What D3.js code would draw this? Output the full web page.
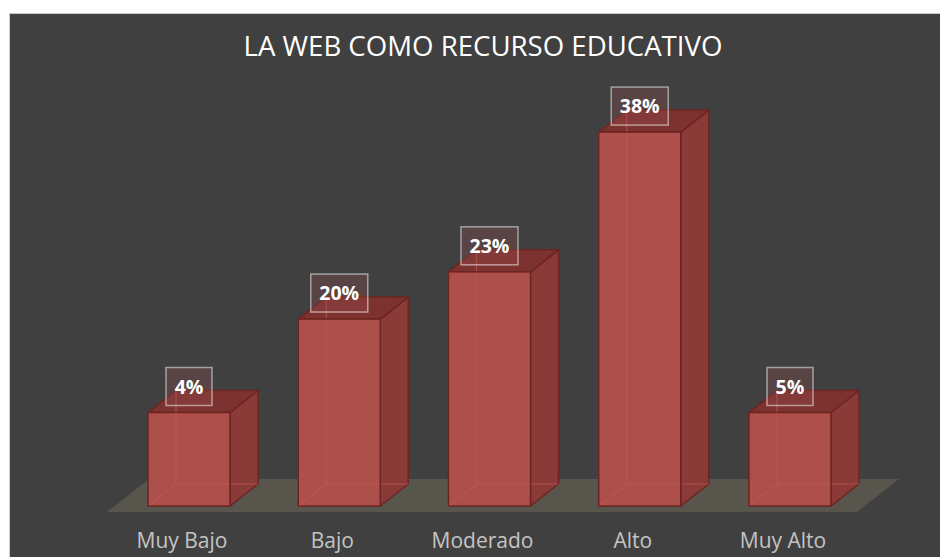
<!DOCTYPE html>
<html>
<head>
<meta charset="utf-8">
<script src="https://cdn.jsdelivr.net/npm/d3@7"></script>
<style>
  html, body { margin: 0; padding: 0; background: #ffffff; }
  svg { display: block; }
</style>
</head>
<body>
<svg id="chart" width="940" height="557"></svg>
<script>
// ---- data ----
const chartTitle = "LA WEB COMO RECURSO EDUCATIVO";
const categories = ["Muy Bajo", "Bajo", "Moderado", "Alto", "Muy Alto"];
// bar heights as drawn in the picture (percent scale)
const barValues = [9.5, 19, 23.8, 38, 9.5];
// data label texts shown above the bars
const dataLabels = ["4%", "20%", "23%", "38%", "5%"];

// ---- layout ----
const W = 940, H = 557;
const svg = d3.select("#chart");

// chart area background with thin border
svg.append("rect")
  .attr("x", 9.5).attr("y", 13.5)
  .attr("width", W + 20).attr("height", H + 20)
  .attr("fill", "#404040")
  .attr("stroke", "#c8c8c8").attr("stroke-width", 1);

const x = d3.scaleBand()
  .domain(categories)
  .range([148, 831])
  .paddingInner(0.454)
  .paddingOuter(0);

const y = d3.scaleLinear()
  .domain([0, 40])
  .range([506, 506 - 40 * 9.84]);

const dx = 28, dy = 22; // depth offset of the 3D bars
const bw = x.bandwidth();
const base = y(0);

// floor
const fx0 = x.range()[0] - 41, fx1 = x.range()[1] + 26;
svg.append("path")
  .attr("d", `M${fx0},${base + 6} L${fx1},${base + 6} L${fx1 + 42},${base - 27} L${fx0 + 42},${base - 27} Z`)
  .attr("fill", "#58554c");

// title
svg.append("text")
  .attr("x", 483).attr("y", 55.5)
  .attr("text-anchor", "middle")
  .attr("font-family", "'Open Sans', sans-serif")
  .attr("font-size", 27.6)
  .attr("fill", "#ffffff")
  .text(chartTitle);

const data = categories.map((c, i) => ({ cat: c, v: barValues[i], label: dataLabels[i] }));

const edge = "#6e2422";
const bars = svg.append("g").selectAll("g.bar").data(data).join("g").attr("class", "bar");

bars.each(function(d) {
  const g = d3.select(this);
  const x0 = x(d.cat), x1 = x0 + bw;
  const yt = y(d.v), yb = base;
  // side face
  g.append("path")
    .attr("d", `M${x1},${yb} L${x1 + dx},${yb - dy} L${x1 + dx},${yt - dy} L${x1},${yt} Z`)
    .attr("fill", "#8a3b38").attr("stroke", edge).attr("stroke-width", 1.5).attr("stroke-linejoin", "round");
  // top face
  g.append("path")
    .attr("d", `M${x0},${yt} L${x1},${yt} L${x1 + dx},${yt - dy} L${x0 + dx},${yt - dy} Z`)
    .attr("fill", "#7c3330").attr("stroke", edge).attr("stroke-width", 1.5).attr("stroke-linejoin", "round");
  // front face
  g.append("rect")
    .attr("x", x0).attr("y", yt).attr("width", bw).attr("height", yb - yt)
    .attr("fill", "#ad4f4a");
  // hidden back edges seen through the translucent front
  g.append("path")
    .attr("d", `M${x0},${yb} L${x0 + dx},${yb - dy} L${x1 + dx},${yb - dy} M${x0 + dx},${yb - dy} L${x0 + dx},${yt - dy}`)
    .attr("fill", "none").attr("stroke", "#c25954").attr("stroke-width", 1.2).attr("opacity", 0.7);
  // front outline
  g.append("rect")
    .attr("x", x0).attr("y", yt).attr("width", bw).attr("height", yb - yt)
    .attr("fill", "none").attr("stroke", edge).attr("stroke-width", 1.5);
});

// data labels
bars.each(function(d) {
  const g = d3.select(this);
  const cx = x(d.cat) + bw / 2;
  const yt = y(d.v);
  const boxBottom = yt - 7, boxH = 38;
  const box = g.append("rect");
  const t = g.append("text")
    .attr("x", cx).attr("y", boxBottom - 12)
    .attr("text-anchor", "middle")
    .attr("font-family", "'Open Sans', sans-serif")
    .attr("font-weight", "bold")
    .attr("font-size", 19.5)
    .attr("fill", "#ffffff")
    .text(d.label);
  const tw = t.node().getComputedTextLength();
  const bwid = Math.round(tw + 17);
  box.attr("x", cx - bwid / 2).attr("y", boxBottom - boxH)
    .attr("width", bwid).attr("height", boxH)
    .attr("fill", "rgba(150,80,78,0.28)")
    .attr("stroke", "rgba(255,255,255,0.5)").attr("stroke-width", 1.5);
});

// category labels
svg.append("g").selectAll("text").data(categories).join("text")
  .attr("x", d => x(d) + bw / 2 - 7)
  .attr("y", 548)
  .attr("text-anchor", "middle")
  .attr("font-family", "'Open Sans', sans-serif")
  .attr("font-size", 21)
  .attr("fill", "#c4c4c4")
  .text(d => d);
</script>
</body>
</html>
